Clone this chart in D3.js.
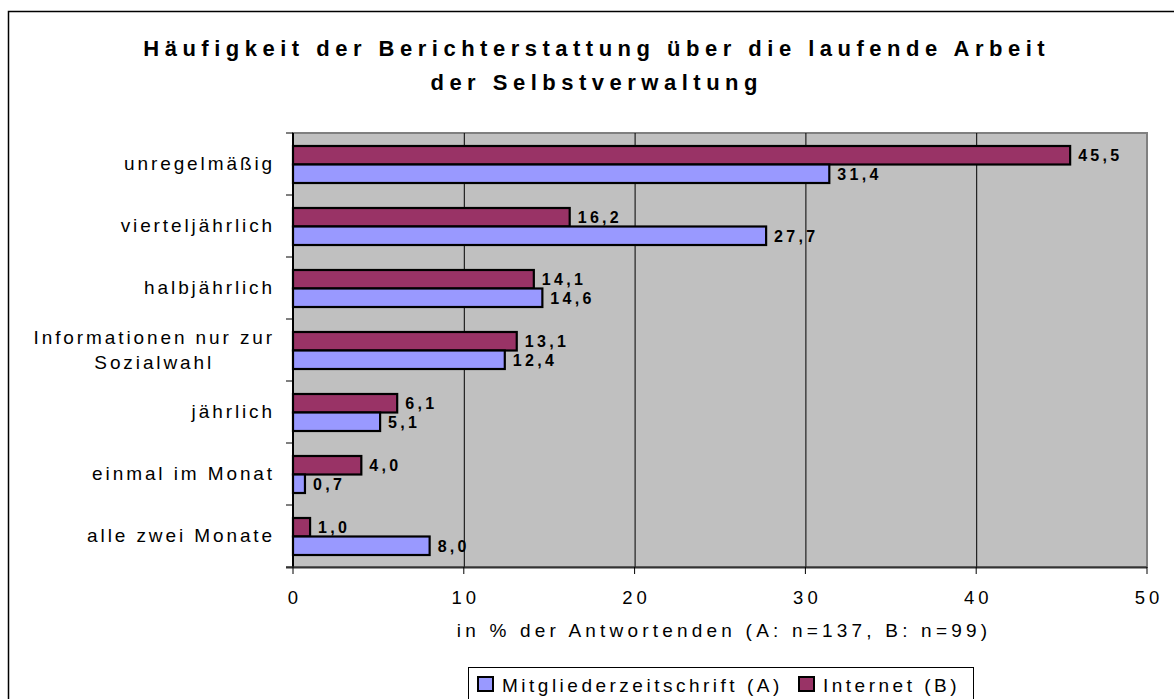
<!DOCTYPE html>
<html>
<head>
<meta charset="utf-8">
<script src="https://cdn.jsdelivr.net/npm/d3@7"></script>
<style>
  body { margin: 0; background: #fff; }
  text { font-family: "Liberation Sans", Arial, sans-serif; fill: #000; }
</style>
</head>
<body>
<script>
var categories = ["unregelmäßig", "vierteljährlich", "halbjährlich",
                  "Informationen nur zur\nSozialwahl", "jährlich",
                  "einmal im Monat", "alle zwei Monate"];
var seriesNames = ["Internet (B)", "Mitgliederzeitschrift (A)"];
var internet = [45.5, 16.2, 14.1, 13.1, 6.1, 4.0, 1.0];
var mitglieder = [31.4, 27.7, 14.6, 12.4, 5.1, 0.7, 8.0];
var xTicks = [0, 10, 20, 30, 40, 50];
var titleLines = ["Häufigkeit der Berichterstattung über die laufende Arbeit",
                  "der Selbstverwaltung"];
var axisTitle = "in % der Antwortenden (A: n=137, B: n=99)";
var colors = {"Internet (B)": "#993366", "Mitgliederzeitschrift (A)": "#9999FF"};

var W = 1174, H = 699;
// note: "top" is taken by window.top, so plot edges get their own names
var pLeft = 293, pRight = 1147, pTop = 133, pBottom = 567;

var svg = d3.select("body").append("svg")
    .attr("width", W)
    .attr("height", H);

// outer frame, runs off the picture on right and bottom
svg.append("rect")
    .attr("x", 8.5).attr("y", 11.5)
    .attr("width", 1180).attr("height", 710)
    .attr("fill", "none").attr("stroke", "#000").attr("stroke-width", 1.5);

var x = d3.scaleLinear().domain([0, 50]).range([pLeft, pRight]);
var y = d3.scaleBand().domain(categories).range([pTop, pBottom]);
var ySub = d3.scaleBand().domain(seriesNames).range([13, 50]);

// plot background
svg.append("rect")
    .attr("x", pLeft).attr("y", pTop)
    .attr("width", pRight - pLeft).attr("height", pBottom - pTop)
    .attr("fill", "#C0C0C0").attr("stroke", "#808080").attr("stroke-width", 2);

// gridlines
svg.selectAll("line.grid")
    .data(xTicks.slice(1, -1))
    .enter().append("line")
    .attr("class", "grid")
    .attr("x1", function(d) { return x(d) + 0.5; })
    .attr("x2", function(d) { return x(d) + 0.5; })
    .attr("y1", pTop).attr("y2", pBottom)
    .attr("stroke", "#000").attr("stroke-width", 1);

// title
svg.selectAll("text.title")
    .data(titleLines)
    .enter().append("text")
    .attr("class", "title")
    .attr("x", 594 + 2.7)
    .attr("y", function(d, i) { return 56 + i * 34; })
    .attr("text-anchor", "middle")
    .attr("font-size", "22px")
    .attr("font-weight", "bold")
    .attr("letter-spacing", "5.5px")
    .text(function(d) { return d; });

// rows of the table: one per category and series
var rows = [];
categories.forEach(function(c, i) {
  rows.push({cat: c, name: "Internet (B)", v: internet[i]});
  rows.push({cat: c, name: "Mitgliederzeitschrift (A)", v: mitglieder[i]});
});

svg.selectAll("rect.bar")
    .data(rows)
    .enter().append("rect")
    .attr("class", "bar")
    .attr("x", x(0))
    .attr("y", function(d) { return y(d.cat) + ySub(d.name); })
    .attr("width", function(d) { return x(d.v) - x(0); })
    .attr("height", ySub.bandwidth())
    .attr("fill", function(d) { return colors[d.name]; })
    .attr("stroke", "#000").attr("stroke-width", 2.2);

svg.selectAll("text.val")
    .data(rows)
    .enter().append("text")
    .attr("class", "val")
    .attr("x", function(d) { return x(d.v) + 8; })
    .attr("y", function(d) { return y(d.cat) + ySub(d.name) + ySub.bandwidth() / 2 + 6; })
    .attr("font-size", "16px")
    .attr("font-weight", "bold")
    .attr("letter-spacing", "3.3px")
    .text(function(d) { return d.v.toFixed(1).replace(".", ","); });

// left axis line and ticks
svg.append("line")
    .attr("x1", pLeft).attr("x2", pLeft).attr("y1", pTop).attr("y2", pBottom)
    .attr("stroke", "#000").attr("stroke-width", 2);
var bounds = categories.map(function(c) { return y(c); }).concat([pBottom]);
svg.selectAll("line.ytick")
    .data(bounds)
    .enter().append("line")
    .attr("class", "ytick")
    .attr("x1", pLeft - 7).attr("x2", pLeft)
    .attr("y1", function(d) { return d; }).attr("y2", function(d) { return d; })
    .attr("stroke", "#000").attr("stroke-width", 1);

// bottom axis
svg.append("line")
    .attr("x1", pLeft - 7).attr("x2", pRight).attr("y1", pBottom + 0.5).attr("y2", pBottom + 0.5)
    .attr("stroke", "#333").attr("stroke-width", 2);
svg.selectAll("line.xtick")
    .data(xTicks)
    .enter().append("line")
    .attr("class", "xtick")
    .attr("x1", function(d) { return x(d); }).attr("x2", function(d) { return x(d); })
    .attr("y1", pBottom).attr("y2", pBottom + 7)
    .attr("stroke", "#000").attr("stroke-width", 1);
svg.selectAll("text.xlab")
    .data(xTicks)
    .enter().append("text")
    .attr("class", "xlab")
    .attr("x", function(d) { return x(d) + 2; })
    .attr("y", 604)
    .attr("text-anchor", "middle")
    .attr("font-size", "18.5px")
    .attr("letter-spacing", "4px")
    .text(function(d) { return d; });

svg.append("text")
    .attr("x", (pLeft + pRight) / 2 + 4)
    .attr("y", 637)
    .attr("text-anchor", "middle")
    .attr("font-size", "19px")
    .attr("letter-spacing", "4.2px")
    .text(axisTitle);

// category labels, wrapped ones are centred within their block
categories.forEach(function(c) {
  var lines = c.split("\n");
  var g = svg.append("g");
  var cy = y(c) + y.bandwidth() / 2;
  var texts = g.selectAll("text")
      .data(lines)
      .enter().append("text")
      .attr("y", function(d, i) { return cy + 6 + (i - (lines.length - 1) / 2) * 25; })
      .attr("font-size", "19px")
      .attr("letter-spacing", "2.9px")
      .text(function(d) { return d; });
  var maxW = d3.max(texts.nodes(), function(n) { return n.getComputedTextLength(); });
  texts.attr("text-anchor", "middle")
      .attr("x", 275 - maxW / 2);
});

// legend
svg.append("rect")
    .attr("x", 468.5).attr("y", 667.5)
    .attr("width", 505).attr("height", 60)
    .attr("fill", "#fff").attr("stroke", "#000").attr("stroke-width", 1);
var legendX = [478, 799];
var legendItems = ["Mitgliederzeitschrift (A)", "Internet (B)"];
svg.selectAll("rect.sw")
    .data(legendItems)
    .enter().append("rect")
    .attr("class", "sw")
    .attr("x", function(d, i) { return legendX[i]; })
    .attr("y", 677)
    .attr("width", 15).attr("height", 14)
    .attr("fill", function(d) { return colors[d]; })
    .attr("stroke", "#000").attr("stroke-width", 2);
svg.selectAll("text.leg")
    .data(legendItems)
    .enter().append("text")
    .attr("class", "leg")
    .attr("x", function(d, i) { return legendX[i] + 24; })
    .attr("y", 692)
    .attr("font-size", "19px")
    .attr("letter-spacing", "3.5px")
    .text(function(d) { return d; });
</script>
</body>
</html>
